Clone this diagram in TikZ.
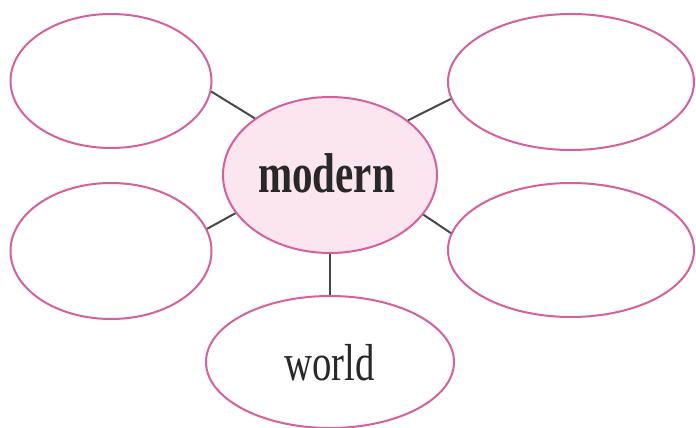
\documentclass[tikz,border=0pt]{standalone}
\usepackage{fontspec}
\setmainfont{Liberation Serif}
\usetikzlibrary{shapes.geometric}
\definecolor{rim}{RGB}{214,96,158}
\definecolor{hubfill}{RGB}{251,229,239}
\definecolor{link}{RGB}{72,72,72}
\definecolor{ink}{RGB}{40,40,40}
\tikzset{
  bubble/.style={ellipse, draw=rim, line width=2pt, fill=white, inner sep=0pt},
  linkline/.style={draw=link, line width=2pt},
}
\begin{document}
\begin{tikzpicture}[x=1pt,y=-1pt]
\useasboundingbox (0,0) rectangle (696,428);
\node[bubble, minimum width=201pt, minimum height=134pt] (tl) at (111,81) {};
\node[bubble, minimum width=246pt, minimum height=136pt] (tr) at (571,82) {};
\node[bubble, minimum width=201pt, minimum height=136pt] (ml) at (111,251) {};
\node[bubble, minimum width=246pt, minimum height=134pt] (mr) at (571,250) {};
\node[bubble, minimum width=248pt, minimum height=132pt] (bt) at (330,362) {};
\node[bubble, fill=hubfill, minimum width=214pt, minimum height=156pt] (hub) at (330,175) {};
\draw[linkline] (tl.-6) -- (hub.143);
\draw[linkline] (tr.-172) -- (hub.35);
\draw[linkline] (ml.13) -- (hub.-158);
\draw[linkline] (mr.172) -- (hub.-23);
\draw[linkline] (hub.south) -- (bt.north);
\node[anchor=base, inner sep=0pt, text=ink] (hubtext) at (326.5,192) {\scalebox{0.76}[1.04]{\fontsize{54}{54}\selectfont\bfseries modern}};
\node[anchor=base, inner sep=0pt, text=ink] (bttext) at (329.5,380) {\scalebox{0.76}[1.02]{\fontsize{51}{51}\selectfont world}};
\end{tikzpicture}
\end{document}
